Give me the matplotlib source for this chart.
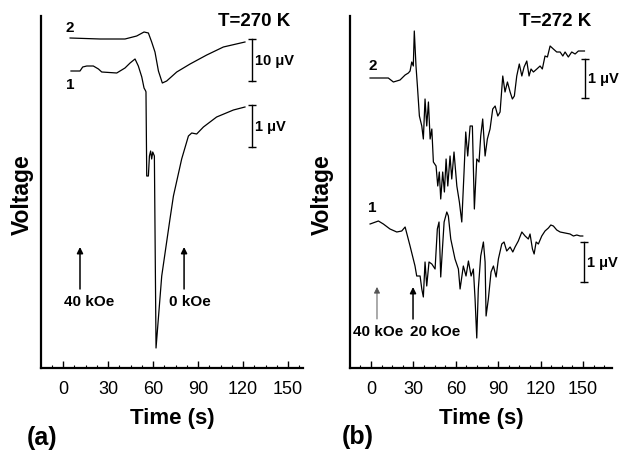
import numpy as np
import matplotlib.pyplot as plt

plt.rcParams['font.family'] = ['Liberation Sans', 'DejaVu Sans']

# panel (a), T=270 K : time (s) and voltage (arb. offset units)
a_t2 = [4.7, 24.7, 41.3, 49.1, 54.0, 56.9, 59.1, 61.3, 63.6, 66.2, 69.1, 75.8,
        84.7, 95.8, 106.9, 121.3]
a_v2 = [33.0, 32.9, 32.9, 33.2, 33.6, 33.5, 32.6, 31.6, 29.7, 28.5, 28.7, 29.6,
        30.4, 31.3, 32.1, 32.6]
a_t1 = [5.3, 11.3, 13.1, 15.8, 20.2, 23.6, 25.8, 35.8, 41.3, 44.7, 48.0, 50.2,
        52.5, 54.0, 55.1, 55.3, 55.8, 56.9, 57.6, 58.4, 59.1, 59.8, 60.9, 62.0,
        65.8, 71.3, 73.6, 79.1, 83.6, 85.8, 89.1, 93.6, 102.4, 113.6, 121.3]
a_v1 = [29.7, 29.7, 30.1, 30.2, 30.2, 29.9, 29.6, 29.5, 30.0, 30.5, 30.9, 30.2,
        29.1, 28.0, 27.7, 27.6, 19.2, 19.2, 21.2, 21.7, 20.9, 21.6, 21.2, 2.0,
        9.2, 14.9, 17.2, 20.9, 23.2, 23.5, 23.4, 24.1, 25.1, 25.8, 26.1]

# panel (b), T=272 K
b_t2 = [-0.7, 12.2, 15.8, 20.5, 24.1, 26.4, 27.6, 28.8, 29.9, 30.6, 31.8, 32.8,
        34.2, 35.9, 37.0, 38.2, 39.4, 40.6, 41.8, 43.0, 44.1, 46.0, 47.2, 48.3,
        49.3, 50.7, 51.9, 53.1, 54.3, 55.9, 57.1, 58.7, 60.7, 62.5, 64.2, 65.8,
        67.0, 68.4, 70.1, 71.7, 73.1, 74.8, 76.4, 77.6, 79.0, 80.7, 82.3, 84.2,
        86.1, 87.8, 89.7, 91.3, 93.2, 94.8, 96.5, 98.4, 100.0, 101.4, 103.1,
        104.9, 106.7, 108.3, 110.2, 111.8, 113.2, 114.9, 117.3, 119.6, 121.2,
        123.1, 124.8, 126.7, 129.0, 131.4, 133.8, 135.7, 137.3, 139.6, 142.0,
        144.4, 146.7, 149.1, 151.0]
b_v2 = [29.0, 29.0, 28.6, 28.8, 29.3, 29.5, 29.7, 30.6, 30.2, 33.7, 30.2, 28.2,
        25.2, 24.2, 22.9, 26.9, 24.2, 26.6, 22.9, 23.9, 20.6, 20.2, 18.2, 19.6,
        16.9, 19.6, 17.6, 20.9, 18.2, 21.2, 18.9, 21.6, 18.2, 16.6, 14.6, 19.6,
        23.6, 21.2, 24.2, 24.2, 15.9, 20.9, 20.6, 23.2, 24.9, 21.2, 22.9, 23.9,
        25.9, 26.2, 25.2, 25.6, 29.2, 27.6, 28.6, 27.6, 26.9, 27.2, 29.2,
        30.4, 29.2, 30.1, 30.7, 29.2, 29.9, 29.6, 29.9, 30.2, 29.9,
        31.2, 31.1, 32.2, 31.9, 31.6, 31.6, 31.2, 31.6, 31.1, 31.6,
        31.4, 31.7, 31.7, 31.7]
b_t1 = [-0.7, 5.2, 8.7, 13.4, 18.2, 21.7, 24.1, 27.6, 31.1, 32.3, 34.7, 35.9,
        37.0, 38.2, 39.4, 41.0, 43.0, 45.3, 46.9, 48.1, 49.3, 50.5, 51.7, 53.6,
        54.7, 56.4, 59.4, 61.8, 63.0, 65.3, 67.2, 68.9, 70.8, 72.4, 73.6, 74.8,
        75.9, 77.6, 79.5, 80.7, 81.4, 83.0, 84.9, 86.6, 88.5, 90.1, 92.5, 94.1,
        96.0, 98.4, 100.3, 101.9, 104.2, 106.7, 109.0, 111.3, 112.5, 114.2,
        115.4, 116.8, 118.4, 120.8, 123.1, 125.5, 127.2, 129.0, 131.4, 133.8,
        137.3, 140.8, 143.2, 145.6, 147.9, 149.8]
b_v1 = [14.4, 14.7, 14.4, 13.9, 13.6, 13.7, 14.1, 12.2, 10.2, 9.2, 9.2, 7.9,
        7.1, 10.6, 8.2, 10.6, 10.4, 9.9, 13.9, 14.6, 9.1, 11.9, 14.6, 15.6,
        15.2, 12.9, 10.9, 9.9, 7.9, 10.2, 9.2, 10.7, 9.2, 9.9, 6.9, 3.0,
        7.9, 11.2, 12.6, 10.6, 5.2, 6.9, 9.6, 10.2, 9.1, 10.9, 12.4, 12.6,
        11.7, 12.1, 11.6, 12.1, 12.7, 13.6, 13.2, 12.9, 13.4, 11.9,
        11.4, 12.6, 12.4, 13.2, 13.7, 14.0, 14.3, 14.2, 13.8, 13.6,
        13.5, 13.4, 13.2, 13.3, 13.2, 13.2]

xticks = [0, 30, 60, 90, 120, 150]

fig = plt.figure(figsize=(6.21, 4.56), dpi=100)
ax_a = fig.add_axes([41/621, 87/456, 262/621, 352/456])
ax_b = fig.add_axes([350/621, 87/456, 262/621, 352/456])


def style(ax, xlim):
    ax.set_xlim(xlim)
    ax.set_ylim(0, 35.2)
    for s in ['top', 'right']:
        ax.spines[s].set_visible(False)
    ax.spines['left'].set_linewidth(1.6)
    ax.spines['bottom'].set_linewidth(1.6)
    ax.set_yticks([])
    ax.set_xticks(xticks)
    ax.set_xticks(np.arange(-7.5, xlim[1], 7.5), minor=True)
    ax.tick_params(axis='x', which='major', direction='in', length=5, width=1,
                   labelsize=13, pad=9)
    ax.tick_params(axis='x', which='minor', direction='in', length=2.5, width=0.8)
    ax.set_xlabel('Time (s)', fontsize=16, fontweight='bold', labelpad=7)


def scalebar(ax, t, v0, v1, label):
    ax.plot([t, t], [v0, v1], color='black', lw=1, marker='_', ms=6, mew=1,
            clip_on=False)
    ax.text(t + 2.0, (v0 + v1) / 2, label, fontsize=10.5, fontweight='bold',
            va='center', ha='left')


def arrow(ax, t, v0, v1, text, tt, color='black', lw=1.1):
    ax.annotate('', xy=(t, v1), xytext=(t, v0),
                arrowprops=dict(arrowstyle='-|>', color=color, lw=lw,
                                mutation_scale=9, shrinkA=0, shrinkB=0))
    ax.text(tt, v0 - 0.5, text, fontsize=11, fontweight='bold',
            ha='center', va='top')


# (a)
style(ax_a, (-14.7, 160))
ax_a.plot(a_t2, a_v2, color='black', lw=0.9)
ax_a.plot(a_t1, a_v1, color='black', lw=0.9)
ax_a.text(4.7, 34.1, '2', fontsize=11, fontweight='bold', ha='center', va='center')
ax_a.text(4.7, 28.4, '1', fontsize=11, fontweight='bold', ha='center', va='center')
ax_a.text(127.3, 34.8, 'T=270 K', fontsize=13.5, fontweight='bold', ha='center',
          va='center')
scalebar(ax_a, 126, 28.7, 32.9, '10 μV')
scalebar(ax_a, 126, 22.1, 26.3, '1 μV')
arrow(ax_a, 11.3, 7.9, 12.1, '40 kOe', 17.5)
arrow(ax_a, 80.7, 7.9, 12.1, '0 kOe', 84.7)

# (b)
style(ax_b, (-14.9, 170.5))
ax_b.plot(b_t2, b_v2, color='black', lw=0.9)
ax_b.plot(b_t1, b_v1, color='black', lw=0.9)
ax_b.text(1.4, 30.3, '2', fontsize=11, fontweight='bold', ha='center', va='center')
ax_b.text(0.7, 16.1, '1', fontsize=11, fontweight='bold', ha='center', va='center')
ax_b.text(130.5, 34.8, 'T=272 K', fontsize=13.5, fontweight='bold', ha='center',
          va='center')
scalebar(ax_b, 151.4, 27.0, 30.9, '1 μV')
scalebar(ax_b, 150.7, 8.6, 12.6, '1 μV')
arrow(ax_b, 4.2, 4.9, 8.1, '40 kOe', 5.0, color='#555555', lw=0.7)
arrow(ax_b, 29.7, 4.9, 8.1, '20 kOe', 45.0)

fig.text(22/621, 1 - 195/456, 'Voltage', rotation=90, fontsize=16.5,
         fontweight='bold', ha='center', va='center')
fig.text(322/621, 1 - 195/456, 'Voltage', rotation=90, fontsize=16.5,
         fontweight='bold', ha='center', va='center')
fig.text(42/621, 1 - 438/456, '(a)', fontsize=18, fontweight='bold',
         ha='center', va='center')
fig.text(358/621, 1 - 437/456, '(b)', fontsize=18, fontweight='bold',
         ha='center', va='center')

fig.savefig('out.png', dpi=100)
